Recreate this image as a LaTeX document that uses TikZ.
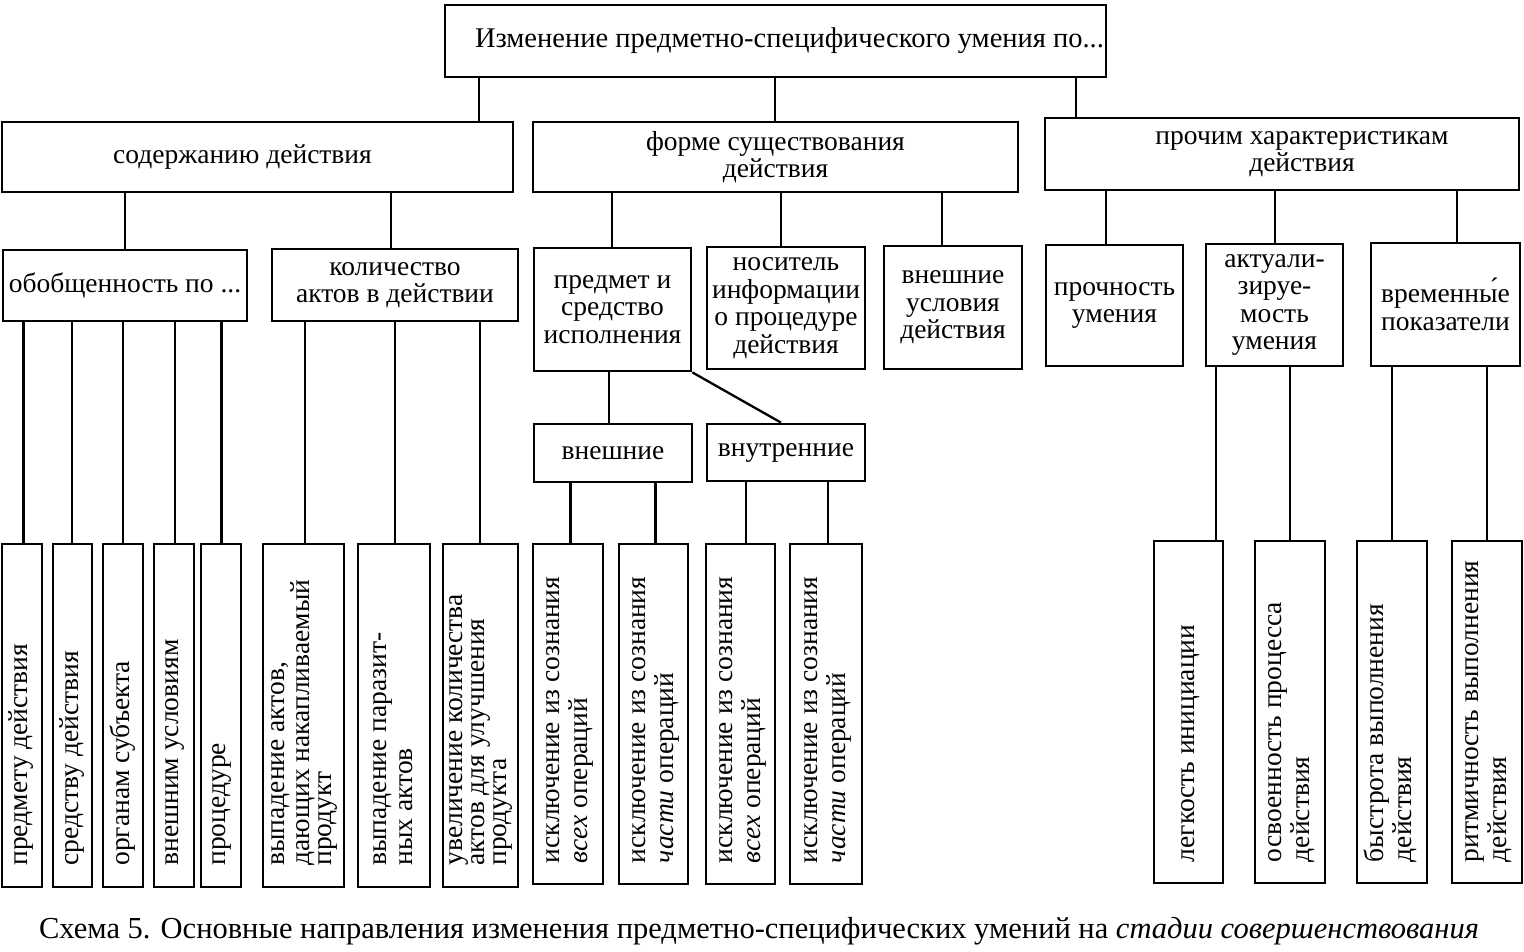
\documentclass[tikz,border=0pt]{standalone}
\usepackage{fontspec}
\setmainfont{Liberation Serif}
\newcommand\fs{\fontsize{27.5}{27.5}\selectfont}
\newcommand\mybox[7][]{%
  \node[box,#1,minimum width={(#5-#3)*1pt},minimum height={(#6-#4)*1pt}] (#2) at ({(#3+#5)/2},{(#4+#6)/2}) {#7};}
\newcommand\rt[3]{\rotatebox{90}{\makebox[#1pt][l]{\fontsize{27.5}{#2}\selectfont\begin{tabular}{@{}l@{}}#3\end{tabular}}}}
\begin{document}
\begin{tikzpicture}[x=1pt,y=-1pt,
  box/.style={draw,line width=2.8pt,inner sep=0pt,align=center,font=\fs},
  conn/.style={line width=2.3pt}]
\useasboundingbox (0,0) rectangle (1524,951);
% level 1
\mybox{top}{445}{5}{1106}{77}{\fontsize{28.5}{28.5}\selectfont\hspace*{28pt}Изменение предметно-специфического умения по...}
% level 2
\mybox{sod}{2}{122}{513}{192}{содержанию действия\hspace*{30pt}}
\mybox{form}{533}{122}{1018}{192}{форме существования\\действия}
\mybox{proch}{1045}{118}{1519}{190}{\hspace*{40pt}прочим характеристикам\\\hspace*{40pt}действия}
% level 3
\mybox{obob}{3}{250}{247}{321}{обобщенность по ...}
\mybox{kol}{272}{249}{518}{321}{количество\\актов в действии}
\mybox{pred}{534}{248}{691}{371}{предмет и\\средство\\исполнения}
\mybox{nos}{707}{247}{865}{369}{носитель\\информации\\о процедуре\\действия}
\mybox{vnu}{884}{246}{1022}{369}{внешние\\условия\\действия}
\mybox{proc}{1046}{245}{1183}{366}{прочность\\умения}
\mybox{akt}{1206}{244}{1343}{366}{актуали-\\зируе-\\мость\\умения}
\mybox{vrem}{1371}{243}{1520}{366}{временны́е\\показатели}
% level 4
\mybox{vnesh}{534}{424}{692}{482}{внешние}
\mybox{vnutr}{707}{424}{865}{481}{внутренние}
% bottom
\mybox{b1}{2}{544}{42}{887}{\rt{300}{24}{предмету действия}}
\mybox{b2}{53}{544}{92}{887}{\rt{300}{24}{средству действия}}
\mybox{b3}{103}{544}{143}{887}{\rt{300}{24}{органам субъекта}}
\mybox{b4}{154}{544}{194}{887}{\rt{300}{24}{внешним условиям}}
\mybox{b5}{201}{544}{241}{887}{\rt{300}{24}{процедуре}}
\mybox{b6}{263}{544}{344}{887}{\rt{300}{22}{выпадение актов,\\дающих накапливаемый\\продукт}}
\mybox{b7}{358}{544}{430}{887}{\rt{300}{26}{выпадение паразит-\\ных актов}}
\mybox{b8}{443}{544}{518}{887}{\rt{300}{22}{увеличение количества\\актов для улучшения\\продукта}}
\mybox{m1}{533}{544}{603}{884}{\rt{298}{28}{исключение из сознания\\\textit{всех} операций}}
\mybox{m2}{619}{544}{688}{884}{\rt{298}{28}{исключение из сознания\\\textit{части} операций}}
\mybox{m3}{706}{544}{775}{884}{\rt{298}{28}{исключение из сознания\\\textit{всех} операций}}
\mybox{m4}{790}{544}{862}{884}{\rt{298}{28}{исключение из сознания\\\textit{части} операций}}
\mybox{r1}{1154}{541}{1223}{883}{\rt{300}{28}{легкость инициации}}
\mybox{r2}{1255}{541}{1325}{883}{\rt{300}{28}{освоенность процесса\\действия}}
\mybox{r3}{1357}{541}{1427}{883}{\rt{300}{28}{быстрота выполнения\\действия}}
\mybox{r4}{1452}{541}{1522}{883}{\rt{300}{28}{ритмичность выполнения\\действия}}
% connectors
\draw[conn] (top.south -| 479,0) -- (sod.north -| 479,0);
\draw[conn] (top.south -| 775,0) -- (form.north -| 775,0);
\draw[conn] (top.south -| 1076,0) -- (proch.north -| 1076,0);
\draw[conn] (sod.south -| 125,0) -- (obob.north -| 125,0);
\draw[conn] (sod.south -| 391,0) -- (kol.north -| 391,0);
\draw[conn] (form.south -| 612,0) -- (pred.north -| 612,0);
\draw[conn] (form.south -| 781,0) -- (nos.north -| 781,0);
\draw[conn] (form.south -| 942,0) -- (vnu.north -| 942,0);
\draw[conn] (proch.south -| 1106,0) -- (proc.north -| 1106,0);
\draw[conn] (proch.south -| 1275,0) -- (akt.north -| 1275,0);
\draw[conn] (proch.south -| 1457,0) -- (vrem.north -| 1457,0);
\draw[conn] (obob.south -| 23.5,0) -- (b1.north -| 23.5,0);
\draw[conn] (obob.south -| 72,0) -- (b2.north -| 72,0);
\draw[conn] (obob.south -| 123,0) -- (b3.north -| 123,0);
\draw[conn] (obob.south -| 175,0) -- (b4.north -| 175,0);
\draw[conn] (obob.south -| 221.5,0) -- (b5.north -| 221.5,0);
\draw[conn] (kol.south -| 305,0) -- (b6.north -| 305,0);
\draw[conn] (kol.south -| 395,0) -- (b7.north -| 395,0);
\draw[conn] (kol.south -| 480,0) -- (b8.north -| 480,0);
\draw[conn] (pred.south -| 609,0) -- (vnesh.north -| 609,0);
\draw[conn] (pred.south east) -- (vnutr.north -| 781,0);
\draw[conn] (vnesh.south -| 570.5,0) -- (m1.north -| 570.5,0);
\draw[conn] (vnesh.south -| 655.5,0) -- (m2.north -| 655.5,0);
\draw[conn] (vnutr.south -| 746,0) -- (m3.north -| 746,0);
\draw[conn] (vnutr.south -| 828,0) -- (m4.north -| 828,0);
\draw[conn] (akt.south -| 1216,0) -- (r1.north -| 1216,0);
\draw[conn] (akt.south -| 1290,0) -- (r2.north -| 1290,0);
\draw[conn] (vrem.south -| 1392,0) -- (r3.north -| 1392,0);
\draw[conn] (vrem.south -| 1487,0) -- (r4.north -| 1487,0);
% caption
\node[font=\fontsize{30.5}{30.5}\selectfont] (cap) at (759,931) {Схема 5. Основные направления изменения предметно-специфических умений на \textit{стадии совершенствования}};
\end{tikzpicture}
\end{document}
